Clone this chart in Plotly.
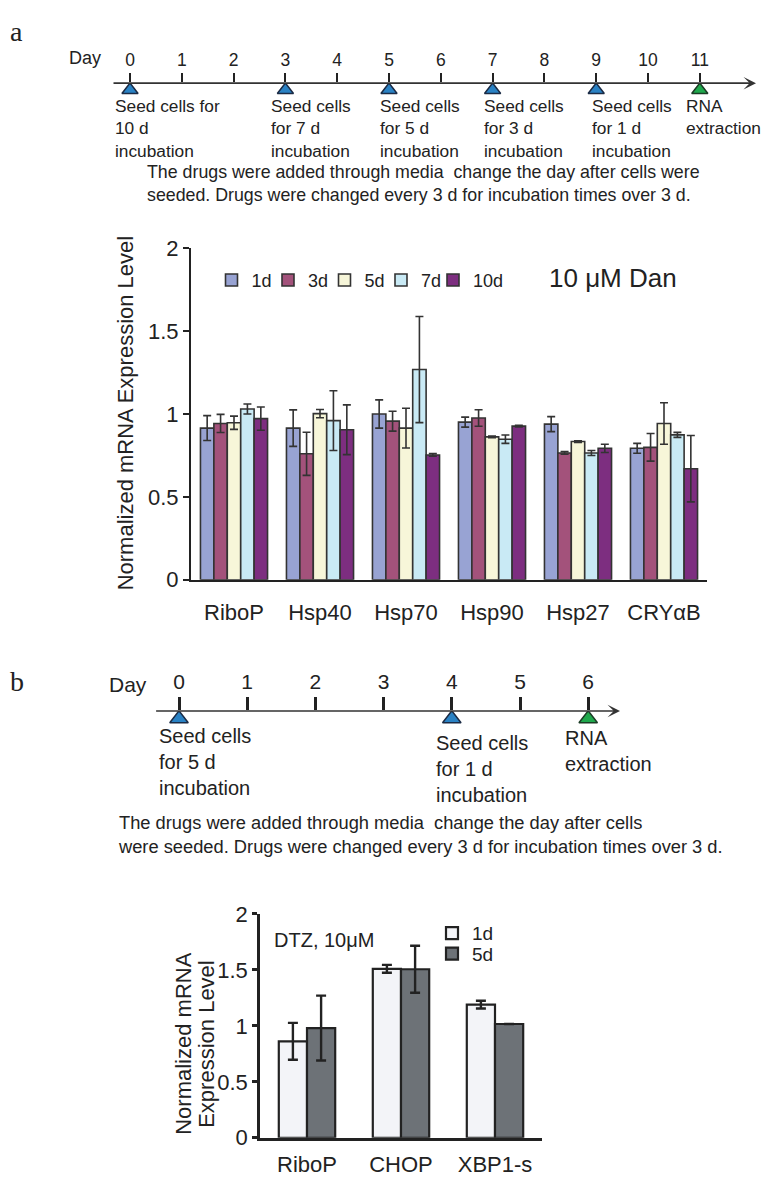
import plotly.graph_objects as go

W, H = 763, 1187
def px(x):
    return x / W
def py(y):
    return 1 - y / H

FONT = "Liberation Sans, Arial, Helvetica, sans-serif"
SERIF = "Liberation Serif, Times New Roman, serif"
INK = "#222222"
EDGE = "#333333"

# ---------------- data ----------------
days_a = list(range(12))
seed_days_a = [0, 3, 5, 7, 9]
rna_day_a = [11]
seed_labels_a = ["Seed cells for<br>10 d<br>incubation",
                 "Seed cells<br>for 7 d<br>incubation",
                 "Seed cells<br>for 5 d<br>incubation",
                 "Seed cells<br>for 3 d<br>incubation",
                 "Seed cells<br>for 1 d<br>incubation"]
rna_label = "RNA<br>extraction"
caption_a = ("The drugs were added through media  change the day after cells were<br>"
             "seeded. Drugs were changed every 3 d for incubation times over 3 d.")

genes_a = ["RiboP", "Hsp40", "Hsp70", "Hsp90", "Hsp27", "CRYαB"]
durations_a = ["1d", "3d", "5d", "7d", "10d"]
expr_1d = [0.915, 0.915, 1.000, 0.951, 0.939, 0.793]
err_1d = [0.075, 0.110, 0.085, 0.030, 0.045, 0.030]
expr_3d = [0.943, 0.760, 0.957, 0.976, 0.765, 0.799]
err_3d = [0.055, 0.130, 0.060, 0.050, 0.008, 0.083]
expr_5d = [0.947, 1.002, 0.915, 0.862, 0.834, 0.943]
err_5d = [0.040, 0.025, 0.120, 0.005, 0.005, 0.125]
expr_7d = [1.030, 0.960, 1.268, 0.848, 0.765, 0.874]
err_7d = [0.030, 0.180, 0.320, 0.025, 0.015, 0.015]
expr_10d = [0.972, 0.905, 0.753, 0.927, 0.793, 0.670]
err_10d = [0.070, 0.150, 0.008, 0.005, 0.025, 0.200]
yticks_a = [0, 0.5, 1, 1.5, 2]
yticklabels_a = ["0", "0.5", "1", "1.5", "2"]

days_b = list(range(7))
seed_days_b = [0, 4]
rna_day_b = [6]
seed_labels_b = ["Seed cells<br>for 5 d<br>incubation",
                 "Seed cells<br>for 1 d<br>incubation"]
caption_b = ("The drugs were added through media  change the day after cells<br>"
             "were seeded. Drugs were changed every 3 d for incubation times over 3 d.")

genes_b = ["RiboP", "CHOP", "XBP1-s"]
durations_b = ["1d", "5d"]
expr_b_1d = [0.862, 1.510, 1.190]
err_b_1d = [0.165, 0.035, 0.035]
expr_b_5d = [0.980, 1.506, 1.017]
err_b_5d = [0.290, 0.210, 0.0]

# ---------------- styles ----------------
colors_a = ["#98a3d3", "#a3527b", "#f7f6d9", "#c9eaf5", "#7d2e80"]
colors_b = ["#f3f4f8", "#6d7277"]
SEED_BLUE = "#2a82c4"
RNA_GREEN = "#1fa84c"
legend_x_a = [231.5, 288, 344.5, 401, 453]      # symbol centres (px)
legend_y_b = [941, 962]

fig = go.Figure()

# ---------------- timeline a ----------------
A_LINE_Y = 72.7
A_DAY0, A_STEP = 130.0, 51.8
A_X0, A_X1 = 112.0, 756.0
a_range = [(A_X0 - A_DAY0) / A_STEP, (A_X1 - A_DAY0) / A_STEP]

fig.add_trace(go.Scatter(x=seed_days_a, y=[-7] * len(seed_days_a), mode="markers",
                         marker=dict(symbol="triangle-up", size=14, color=SEED_BLUE,
                                     line=dict(color="#1b2b45", width=1.5)),
                         xaxis="x", yaxis="y", showlegend=False, hoverinfo="skip"))
fig.add_trace(go.Scatter(x=rna_day_a, y=[-7], mode="markers",
                         marker=dict(symbol="triangle-up", size=14, color=RNA_GREEN,
                                     line=dict(color="#1b3b25", width=1.5)),
                         xaxis="x", yaxis="y", showlegend=False, hoverinfo="skip"))

# ---------------- bar chart a ----------------
series_a = [(expr_1d, err_1d), (expr_3d, err_3d), (expr_5d, err_5d),
            (expr_7d, err_7d), (expr_10d, err_10d)]
grp_w_a = 0.78
bw_a = grp_w_a / len(series_a)
legend_names_a = ["legend", "legend2", "legend3", "legend4", "legend5"]
for i, ((vals, errs), name, col) in enumerate(zip(series_a, durations_a, colors_a)):
    fig.add_trace(go.Bar(x=genes_a, y=vals, name=name, width=bw_a,
                         offset=-grp_w_a / 2 + i * bw_a,
                         marker=dict(color=col, line=dict(color=EDGE, width=1.6)),
                         error_y=dict(type="data", array=errs, color=EDGE,
                                      thickness=1.6, width=4),
                         xaxis="x2", yaxis="y2", legend=legend_names_a[i]))

# ---------------- timeline b ----------------
B_LINE_Y = 714.0
B_DAY0, B_STEP = 179.0, 68.2
B_X0, B_X1 = 154.6, 620.0
b_range = [(B_X0 - B_DAY0) / B_STEP, (B_X1 - B_DAY0) / B_STEP]

fig.add_trace(go.Scatter(x=seed_days_b, y=[-8] * len(seed_days_b), mode="markers",
                         marker=dict(symbol="triangle-up", size=16, color=SEED_BLUE,
                                     line=dict(color="#1b2b45", width=1.5)),
                         xaxis="x3", yaxis="y3", showlegend=False, hoverinfo="skip"))
fig.add_trace(go.Scatter(x=rna_day_b, y=[-8], mode="markers",
                         marker=dict(symbol="triangle-up", size=16, color=RNA_GREEN,
                                     line=dict(color="#1b3b25", width=1.5)),
                         xaxis="x3", yaxis="y3", showlegend=False, hoverinfo="skip"))

# ---------------- bar chart b ----------------
series_b = [(expr_b_1d, err_b_1d), (expr_b_5d, err_b_5d)]
grp_w_b = 0.60
bw_b = grp_w_b / len(series_b)
legend_names_b = ["legend6", "legend7"]
for i, ((vals, errs), name, col) in enumerate(zip(series_b, durations_b, colors_b)):
    fig.add_trace(go.Bar(x=genes_b, y=vals, name=name, width=bw_b,
                         offset=-grp_w_b / 2 + i * bw_b,
                         marker=dict(color=col, line=dict(color=INK, width=2.2)),
                         error_y=dict(type="data", array=errs, color=INK,
                                      thickness=2.4, width=5),
                         xaxis="x4", yaxis="y4", legend=legend_names_b[i]))

# ---------------- annotations ----------------
ann = []
def txt(text, x, y, size, xanchor="left", yanchor="middle", family=FONT, **kw):
    d = dict(text=text, x=x, y=y, xref="paper", yref="paper", showarrow=False,
             xanchor=xanchor, yanchor=yanchor, font=dict(family=family, size=size, color=INK))
    d.update(kw)
    ann.append(d)

txt("a", px(8), py(20), 28, family=SERIF)
txt("Day", px(67), py(47), 18)
ann.append(dict(x=a_range[1], y=0, ax=a_range[0], ay=0, xref="x", yref="y",
                axref="x", ayref="y", showarrow=True, arrowhead=3, arrowsize=1.3,
                arrowwidth=1.6, arrowcolor=EDGE, text=""))
a_label_shift = [-17, -16, -11, -11, -6]
for d, lab, sh in zip(seed_days_a, seed_labels_a, a_label_shift):
    ann.append(dict(text=lab, x=d, xref="x", y=py(84), yref="paper", xshift=sh,
                    showarrow=False, xanchor="left", yanchor="top", align="left",
                    font=dict(family=FONT, size=17.3, color=INK)))
ann.append(dict(text=rna_label, x=rna_day_a[0], xref="x", y=py(84), yref="paper", xshift=-16,
                showarrow=False, xanchor="left", yanchor="top", align="left",
                font=dict(family=FONT, size=17.3, color=INK)))
txt(caption_a, px(145), py(151), 17.8, yanchor="top", align="left")

txt("10 μM Dan", px(613), py(272), 26, xanchor="center")
txt("Normalized mRNA Expression Level", px(125), py(410), 22, xanchor="center",
    textangle=-90)

txt("b", px(8), py(684), 28, family=SERIF)
txt("Day", px(107), py(687), 21)
ann.append(dict(x=b_range[1], y=0, ax=b_range[0], ay=0, xref="x3", yref="y3",
                axref="x3", ayref="y3", showarrow=True, arrowhead=3, arrowsize=1.3,
                arrowwidth=1.6, arrowcolor=EDGE, text=""))
b_label_shift = [-22, -18]
b_label_top = [726, 733]
for d, lab, sh, tp in zip(seed_days_b, seed_labels_b, b_label_shift, b_label_top):
    ann.append(dict(text=lab, x=d, xref="x3", y=py(tp), yref="paper", xshift=sh,
                    showarrow=False, xanchor="left", yanchor="top", align="left",
                    font=dict(family=FONT, size=20, color=INK)))
ann.append(dict(text=rna_label, x=rna_day_b[0], xref="x3", y=py(728), yref="paper", xshift=-25,
                showarrow=False, xanchor="left", yanchor="top", align="left",
                font=dict(family=FONT, size=20, color=INK)))
txt(caption_b, px(116), py(815), 18.3, yanchor="top", align="left")

txt("DTZ, 10μM", px(272), py(948), 20)
txt("Normalized mRNA", px(184), py(1054), 22, xanchor="center", textangle=-90)
txt("Expression Level", px(207), py(1054), 22, xanchor="center", textangle=-90)

tl_common = dict(side="top", ticks="outside", tickcolor=INK, showline=False,
                 showgrid=False, zeroline=False, fixedrange=True)
bar_x_common = dict(showline=True, linecolor=INK, ticks="", showgrid=False,
                    zeroline=False, fixedrange=True)
bar_y_common = dict(showline=True, linecolor=INK, ticks="outside", tickcolor=INK,
                    showgrid=False, zeroline=False, fixedrange=True, range=[0, 2],
                    tickvals=yticks_a, ticktext=yticklabels_a)

legends = {}
for i, key in enumerate(legend_names_a):
    legends[key] = dict(orientation="v", x=px(legend_x_a[i] - 20), y=py(274),
                        xanchor="left", yanchor="middle", font=dict(size=18, color=INK),
                        bgcolor="rgba(0,0,0,0)")
for i, key in enumerate(legend_names_b):
    legends[key] = dict(orientation="v", x=px(452 - 20), y=py(legend_y_b[i]),
                        xanchor="left", yanchor="middle", font=dict(size=19, color=INK),
                        bgcolor="rgba(0,0,0,0)")

fig.update_layout(
    width=W, height=H, margin=dict(l=0, r=0, t=0, b=0),
    paper_bgcolor="white", plot_bgcolor="rgba(0,0,0,0)",
    font=dict(family=FONT, color=INK),
    barmode="group",
    xaxis=dict(domain=[px(A_X0), px(A_X1)], range=a_range, anchor="y",
               tickvals=days_a, ticktext=[str(d) for d in days_a],
               ticklen=9, tickwidth=2, tickfont=dict(size=17.5, color=INK), **tl_common),
    yaxis=dict(domain=[py(A_LINE_Y + 30), py(A_LINE_Y)], range=[-30, 0], visible=False,
               fixedrange=True),
    xaxis2=dict(domain=[px(191), px(707)], anchor="y2", linewidth=2,
                tickfont=dict(size=22, color=INK), ticklabelstandoff=12, **bar_x_common),
    yaxis2=dict(domain=[py(580), py(241.3)], anchor="x2", linewidth=2, ticklen=6,
                tickwidth=2, tickfont=dict(size=22, color=INK), **bar_y_common),
    xaxis3=dict(domain=[px(B_X0), px(B_X1)], range=b_range, anchor="y3",
                tickvals=days_b, ticktext=[str(d) for d in days_b],
                ticklen=13, tickwidth=2.5, tickfont=dict(size=21, color=INK), **tl_common),
    yaxis3=dict(domain=[py(B_LINE_Y + 30), py(B_LINE_Y)], range=[-30, 0], visible=False,
                fixedrange=True),
    xaxis4=dict(domain=[px(260), px(542)], anchor="y4", linewidth=2.6,
                tickfont=dict(size=22, color=INK), ticklabelstandoff=5, **bar_x_common),
    yaxis4=dict(domain=[py(1150), py(921.4)], anchor="x4", linewidth=2.6, ticklen=5,
                tickwidth=2.6, tickfont=dict(size=22, color=INK), **bar_y_common),
    annotations=ann,
    **legends,
)

fig.write_html("out.html", config={"displayModeBar": False},
               post_script="document.body.style.margin='0px';")
